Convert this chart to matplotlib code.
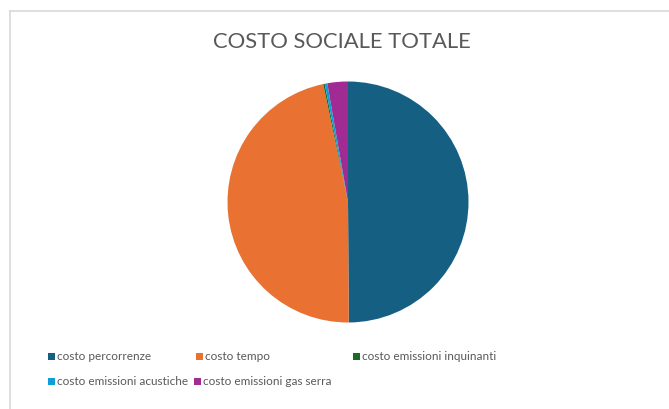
import matplotlib.pyplot as plt
from matplotlib.patches import Rectangle
from matplotlib.lines import Line2D

# Quote del costo sociale totale (%)
categories = [
    "costo percorrenze",
    "costo tempo",
    "costo emissioni inquinanti",
    "costo emissioni acustiche",
    "costo emissioni gas serra",
]
values = [49.9, 46.8, 0.2, 0.35, 2.75]
colors = ["#156082", "#E97132", "#196B24", "#0F9ED5", "#A02B93"]

W, H = 669, 410
fig = plt.figure(figsize=(W / 100, H / 100), dpi=100)
fig.patch.set_facecolor("white")

# chart area frame (top and left edges visible)
fig.add_artist(Line2D([9.5 / W, 9.5 / W], [0, 1 - 11.5 / H], color="#d9d9d9", lw=1.2,
                      transform=fig.transFigure))
fig.add_artist(Line2D([9.5 / W, 1], [1 - 11.5 / H, 1 - 11.5 / H], color="#d9d9d9", lw=1.2,
                      transform=fig.transFigure))

fig.text(342 / W, 1 - 42 / H, "COSTO SOCIALE TOTALE", ha="center", va="center",
         fontsize=15.8, color="#595959", family="Lato")

cx, cy, r = 348, 203, 120.5
ax = fig.add_axes([(cx - r) / W, 1 - (cy + r) / H, 2 * r / W, 2 * r / H])
ax.pie(values, colors=colors, startangle=90, counterclock=False,
       wedgeprops=dict(linewidth=0))
ax.set_aspect("equal")
ax.set_xlim(-1, 1)
ax.set_ylim(-1, 1)
ax.axis("off")

# legend entries laid out in two rows
legend_pos = [(48, 357), (196, 357), (353, 357), (48, 382), (194, 382)]
sq = 7
for (x, y), lab, col in zip(legend_pos, categories, colors):
    fig.add_artist(Rectangle((x / W, 1 - (y + sq / 2) / H), sq / W, sq / H,
                             facecolor=col, edgecolor="none", transform=fig.transFigure))
    fig.text((x + 9) / W, 1 - y / H, lab, ha="left", va="center",
             fontsize=8.5, color="#595959", family="Lato")

fig.savefig("out.png", dpi=100, facecolor="white")
